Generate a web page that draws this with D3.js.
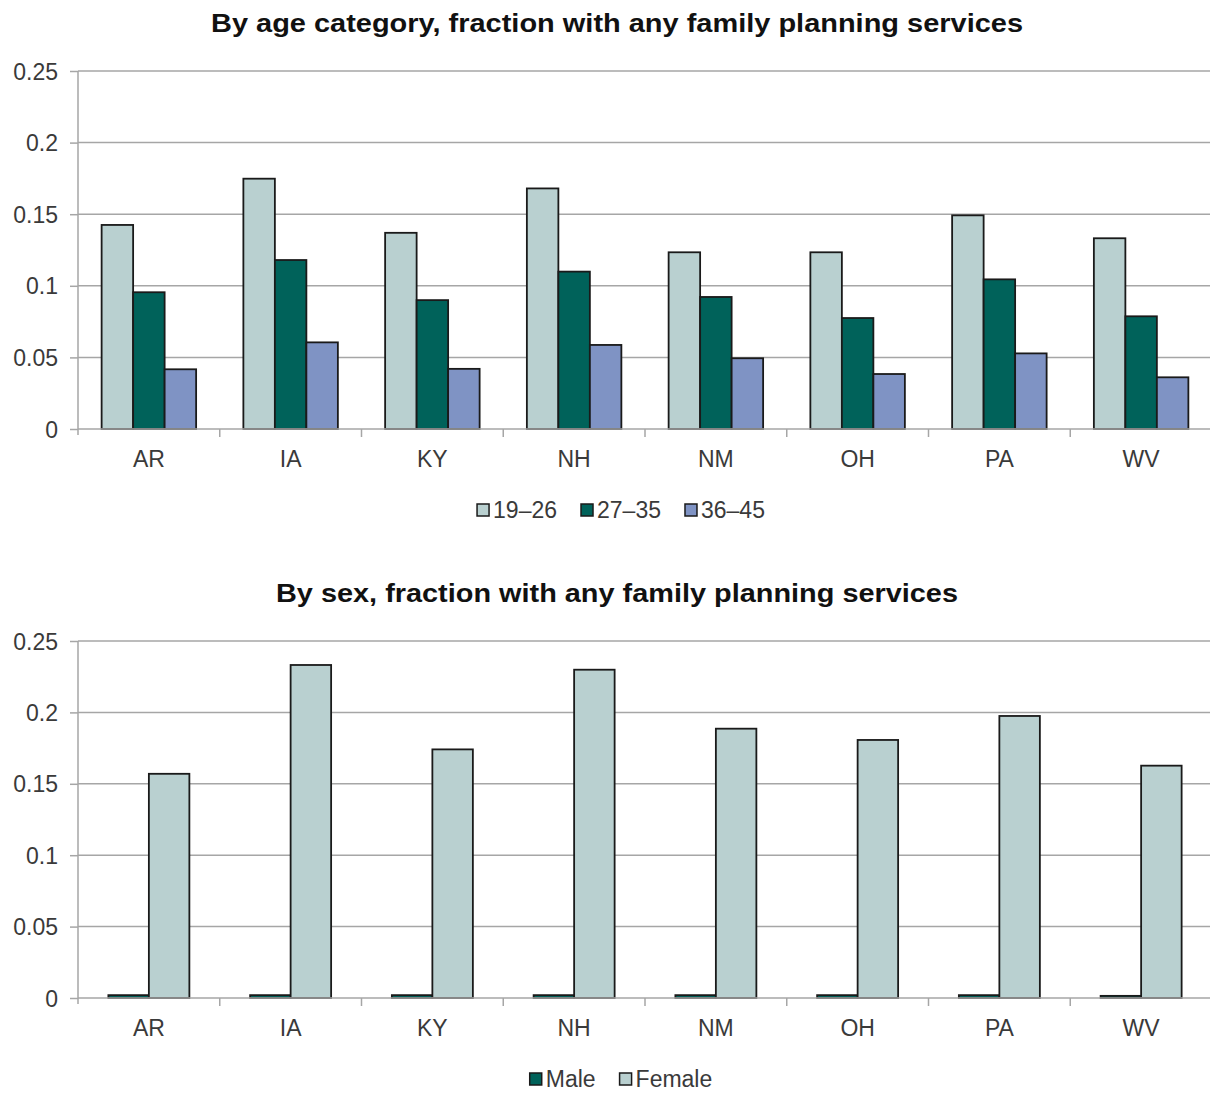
<!DOCTYPE html>
<html>
<head>
<meta charset="utf-8">
<script src="https://cdn.jsdelivr.net/npm/d3@7"></script>
<style>
  html, body { margin: 0; padding: 0; background: #fff; }
  svg { display: block; font-family: "Liberation Sans", Arial, sans-serif; }
</style>
</head>
<body>
<svg id="chart" width="1210" height="1093"></svg>
<script>
// States shown on both panels
const states = ["AR", "IA", "KY", "NH", "NM", "OH", "PA", "WV"];

// Age-category panel
const ageGroups = ["19\u201326", "27\u201335", "36\u201345"];
const age19to26 = [0.1425, 0.1748, 0.137, 0.168, 0.1234, 0.1234, 0.1492, 0.1332];
const age27to35 = [0.0955, 0.118, 0.090, 0.1099, 0.0922, 0.0775, 0.1045, 0.0787];
const age36to45 = [0.0417, 0.0605, 0.042, 0.0587, 0.0494, 0.0384, 0.0528, 0.0361];

// Sex panel
const sexGroups = ["Male", "Female"];
const maleValues = [0.002, 0.002, 0.002, 0.002, 0.002, 0.002, 0.002, 0.0015];
const femaleValues = [0.157, 0.2332, 0.1741, 0.2299, 0.1886, 0.1807, 0.1975, 0.1627];

const yTicks = [0, 0.05, 0.1, 0.15, 0.2, 0.25];

const colLight = "#b9d0d0";
const colDark = "#00625a";
const colBlue = "#7f93c4";
const axisGrey = "#a6a6a6";
const labelGrey = "#3a3a3a";
const labelSize = 23;

const svg = d3.select("#chart");

function drawPanel(opts) {
  const { title, titleY, titleWidth, top, bottom, legendY, series, names, colors } = opts;
  const left = 78, right = 1212;
  const g = svg.append("g");

  const x = d3.scaleBand().domain(states).range([left, right]).paddingInner(0).paddingOuter(0);
  const y = d3.scaleLinear().domain([0, 0.25]).range([bottom, top]);

  // title
  g.append("text")
    .attr("x", 617).attr("y", titleY)
    .attr("text-anchor", "middle")
    .attr("font-size", 26).attr("font-weight", "bold").attr("fill", "#111")
    .attr("textLength", titleWidth).attr("lengthAdjust", "spacingAndGlyphs")
    .text(title);

  // gridlines
  g.append("g").selectAll("line").data(yTicks.filter(t => t > 0)).join("line")
    .attr("x1", left).attr("x2", right)
    .attr("y1", d => y(d)).attr("y2", d => y(d))
    .attr("stroke", axisGrey).attr("stroke-width", 1.5);

  // y axis
  const yAxis = d3.axisLeft(y).tickValues(yTicks).tickSize(8).tickPadding(12)
    .tickFormat(d => d3.format("")(+d.toFixed(2)));
  const ya = g.append("g").attr("transform", `translate(${left},0)`).call(yAxis);
  ya.select(".domain").remove();
  ya.append("line").attr("x1", 0).attr("x2", 0).attr("y1", top).attr("y2", bottom + 6)
    .attr("stroke", axisGrey).attr("stroke-width", 1.5);
  ya.selectAll(".tick line").attr("stroke", axisGrey).attr("stroke-width", 1.5);
  ya.selectAll(".tick text").attr("font-size", labelSize).attr("fill", labelGrey)
    .attr("dy", "0.35em")
    .attr("font-family", "Liberation Sans, Arial, sans-serif");

  // bars
  const n = series.length;
  const inner = d3.scaleBand().domain(d3.range(n))
    .range([0, x.bandwidth()]).paddingOuter(0.75).paddingInner(0);
  series.forEach((vals, si) => {
    g.append("g").selectAll("rect").data(vals).join("rect")
      .attr("x", (d, i) => x(states[i]) + inner(si))
      .attr("width", inner.bandwidth())
      .attr("y", d => y(d))
      .attr("height", d => y(0) - y(d))
      .attr("fill", colors[si])
      .attr("stroke", "#1a1a1a").attr("stroke-width", 1.8);
  });

  // x axis
  const xa = g.append("g").attr("transform", `translate(0,${bottom})`);
  xa.append("line").attr("x1", left).attr("x2", right)
    .attr("stroke", axisGrey).attr("stroke-width", 1.5);
  xa.selectAll("line.tk").data(states.slice(1)).join("line").attr("class", "tk")
    .attr("x1", d => x(d)).attr("x2", d => x(d))
    .attr("y1", 0).attr("y2", 8)
    .attr("stroke", axisGrey).attr("stroke-width", 1.5);
  xa.selectAll("text").data(states).join("text")
    .attr("x", d => x(d) + x.bandwidth() / 2)
    .attr("y", 38)
    .attr("text-anchor", "middle")
    .attr("font-size", labelSize).attr("fill", labelGrey)
    .text(d => d);

  // legend: swatch + label, centred under the plot
  const lg = g.append("g");
  const items = names.map((nm, i) => {
    const t = lg.append("text").attr("y", legendY + 8)
      .attr("font-size", labelSize).attr("fill", labelGrey).text(nm);
    const r = lg.append("rect").attr("y", legendY - 6).attr("width", 12).attr("height", 12)
      .attr("fill", colors[i]).attr("stroke", "#1a1a1a").attr("stroke-width", 1.5);
    return { t, r, w: t.node().getComputedTextLength() + 16 };
  });
  const gap = 24;
  const total = d3.sum(items, d => d.w) + gap * (items.length - 1);
  let cx = 621 - total / 2;
  items.forEach(it => {
    it.r.attr("x", cx);
    it.t.attr("x", cx + 16);
    cx += it.w + gap;
  });
}

drawPanel({
  title: "By age category, fraction with any family planning services",
  titleY: 32, titleWidth: 812, top: 71, bottom: 429, legendY: 510,
  series: [age19to26, age27to35, age36to45],
  names: ageGroups,
  colors: [colLight, colDark, colBlue]
});

drawPanel({
  title: "By sex, fraction with any family planning services",
  titleY: 602, titleWidth: 682, top: 641, bottom: 998, legendY: 1079,
  series: [maleValues, femaleValues],
  names: sexGroups,
  colors: [colDark, colLight]
});
</script>
</body>
</html>
